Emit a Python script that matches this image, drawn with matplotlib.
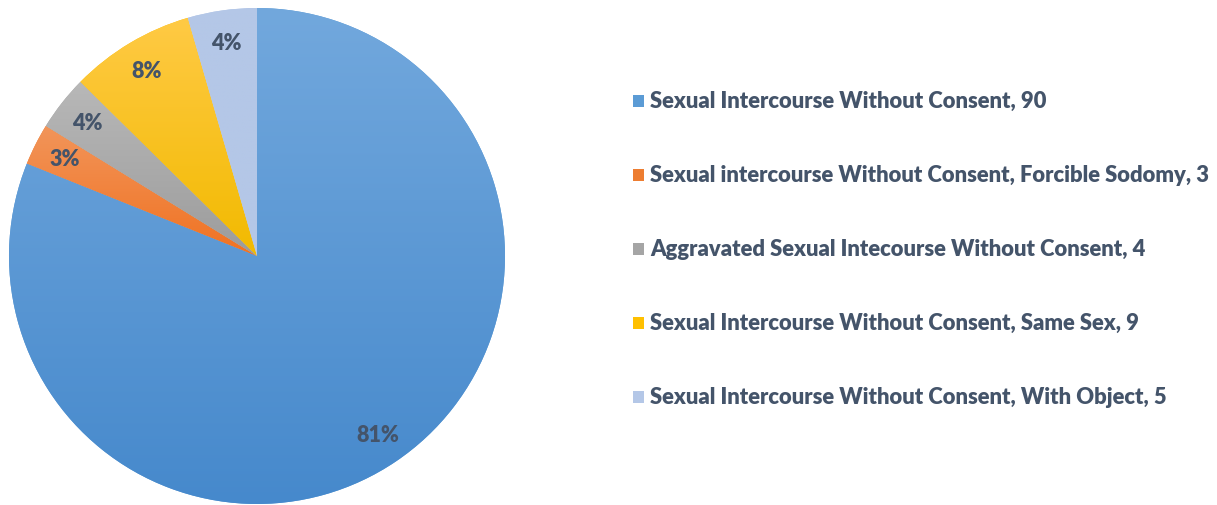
import matplotlib.pyplot as plt
import matplotlib.colors as mcolors
import numpy as np

# data
categories = [
    'Sexual Intercourse Without Consent',
    'Sexual intercourse Without Consent, Forcible Sodomy',
    'Aggravated Sexual Intecourse Without Consent',
    'Sexual Intercourse Without Consent, Same Sex',
    'Sexual Intercourse Without Consent, With Object',
]
counts = [90, 3, 4, 9, 5]
pct_labels = ['81%', '3%', '4%', '8%', '4%']
colors = ['#5B9BD5', '#ED7D31', '#A5A5A5', '#FFC000', '#B4C7E7']
# gradient ends (top, bottom) for each slice
grad_top = ['#72A8DD', '#F2955A', '#B8B8B8', '#FFCA45', '#B4C7E7']
grad_bot = ['#4689CC', '#F07222', '#9C9C9C', '#F2BA00', '#B4C7E7']

text_color = '#44546A'
plt.rcParams['font.family'] = ['Lato', 'DejaVu Sans']

W, H = 1217, 506
fig = plt.figure(figsize=(W / 100, H / 100), dpi=100)

# pie axes: center ~ (257, 257) px, radius ~ 248 px
cx, cy, r = 257, 257, 248
ax = fig.add_axes([(cx - r) / W, (H - cy - r) / H, 2 * r / W, 2 * r / H])
wedges, _, autotexts = ax.pie(counts, colors=colors, startangle=90, counterclock=False,
                              radius=1, autopct=lambda p: '', pctdistance=0.87,
                              wedgeprops=dict(linewidth=0))
ax.set_xlim(-1, 1)
ax.set_ylim(-1, 1)
ax.set_aspect('auto')
ax.axis('off')

# vertical gradient fill per wedge (light top, darker bottom)
for w, top, bot in zip(wedges, grad_top, grad_bot):
    bb = w.get_path().get_extents(w.get_transform()).transformed(ax.transData.inverted())
    cmap = mcolors.LinearSegmentedColormap.from_list('g', [bot, top])
    grad = np.linspace(0, 1, 256).reshape(-1, 1)
    im = ax.imshow(grad, extent=[bb.x0, bb.x1, bb.y0, bb.y1], origin='lower',
                   cmap=cmap, aspect='auto', zorder=1.5)
    im.set_clip_path(w)

for t, lab in zip(autotexts, pct_labels):
    t.set_text(lab)
    t.set_color(text_color)
    t.set_fontsize(15.5)
    t.set_fontweight('heavy')
    t.set_zorder(3)

# legend drawn manually
lx, y0, dy = 638, 101.5, 74
for i, (cat, n, c) in enumerate(zip(categories, counts, colors)):
    y = y0 + i * dy
    fig.patches.append(plt.Rectangle(((lx - 5.5) / W, (H - y - 6) / H), 11.5 / W, 12 / H,
                                     transform=fig.transFigure, facecolor=c, edgecolor='none'))
    fig.text((lx + 12) / W, (H - y) / H, f'{cat}, {n}', color=text_color,
             fontsize=15.8, fontweight='heavy', va='center', ha='left')

fig.savefig('out.png', dpi=100)
